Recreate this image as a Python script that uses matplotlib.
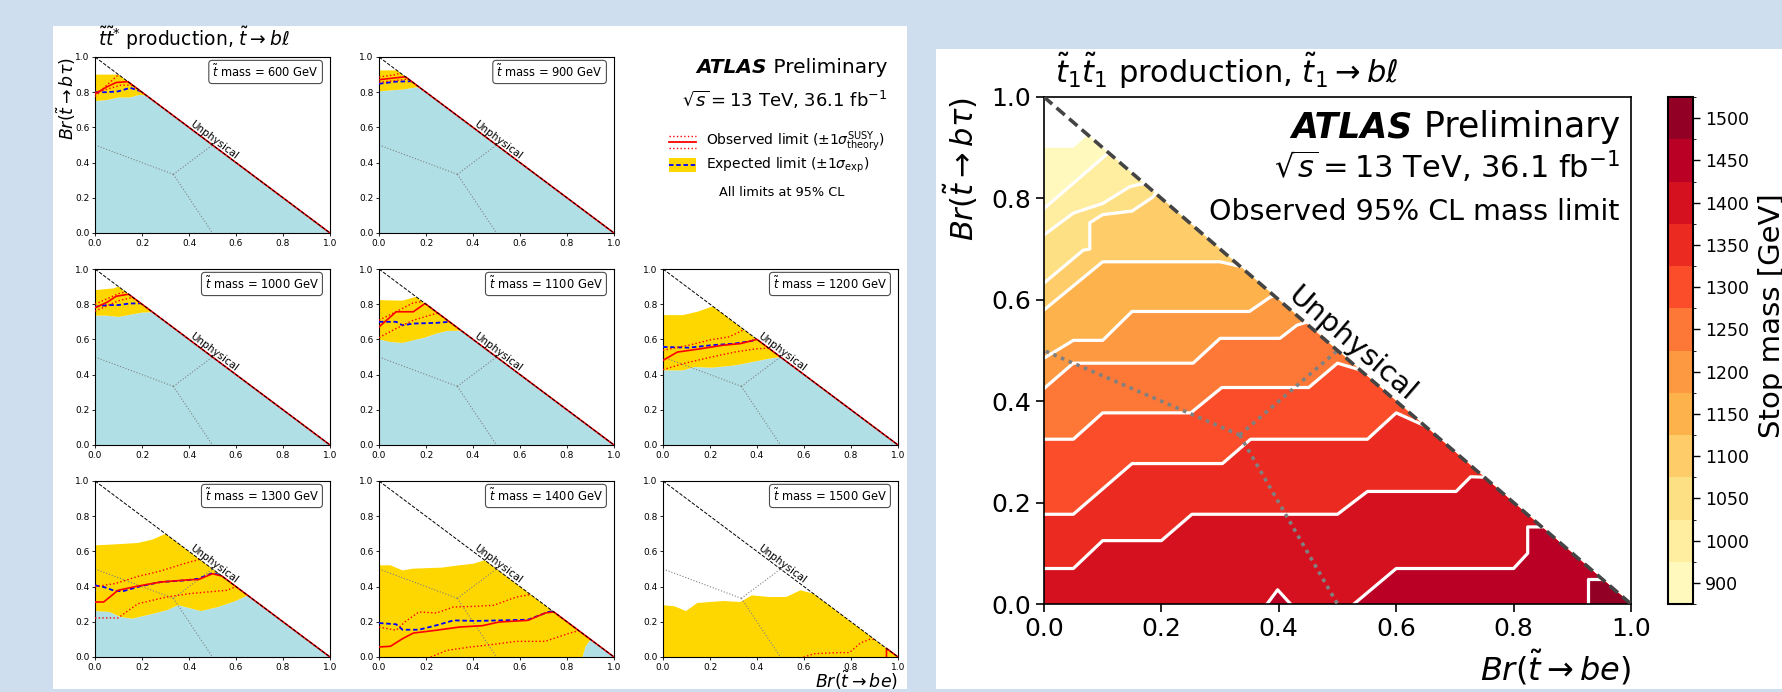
import numpy as np
import matplotlib
matplotlib.use('Agg')
import matplotlib.pyplot as plt
from matplotlib.patches import Polygon, Rectangle
from matplotlib.colors import ListedColormap, BoundaryNorm
from matplotlib.cm import ScalarMappable

# ---------------- datos: panel derecho (limite observado) ----------------
mass_levels = [900, 1000, 1050, 1100, 1150, 1200, 1250, 1300, 1350, 1400, 1450, 1500]

# borde superior de la zona con limite (banda de 900 GeV)
top_x = [0.0, 0.05, 0.075]
top_y = [0.90, 0.90, 0.925]

# contornos: cada uno separa la banda de arriba de la banda de abajo (masa indicada)
c1000 = ([0.0, 0.11], [0.78, 0.89])
c1050 = ([0.0, 0.05, 0.10, 0.146, 0.164, 0.172], [0.728, 0.771, 0.79, 0.823, 0.828, 0.828])
c1100 = ([0.0, 0.067, 0.078, 0.078, 0.10, 0.15, 0.186, 0.19],
         [0.633, 0.698, 0.70, 0.752, 0.768, 0.775, 0.803, 0.81])
c1150 = ([0.0, 0.10, 0.30, 0.334], [0.58, 0.675, 0.675, 0.666])
c1200 = ([0.0, 0.05, 0.10, 0.15, 0.35, 0.385, 0.392], [0.485, 0.52, 0.52, 0.577, 0.577, 0.605, 0.608])
c1250 = ([0.0, 0.05, 0.254, 0.30, 0.402, 0.431, 0.445], [0.425, 0.475, 0.475, 0.524, 0.524, 0.55, 0.555])
c1300 = ([0.0, 0.05, 0.10, 0.25, 0.303, 0.451, 0.50, 0.538],
         [0.325, 0.325, 0.377, 0.377, 0.427, 0.427, 0.475, 0.462])
c1350 = ([0.0, 0.05, 0.15, 0.304, 0.352, 0.551, 0.60, 0.648],
         [0.177, 0.177, 0.277, 0.277, 0.325, 0.325, 0.377, 0.352])
c1400 = ([0.0, 0.05, 0.10, 0.20, 0.252, 0.50, 0.551, 0.702, 0.727, 0.75],
         [0.07, 0.07, 0.125, 0.125, 0.177, 0.177, 0.222, 0.222, 0.251, 0.25])
c1450 = ([0.528, 0.60, 0.80, 0.824, 0.824, 0.848], [0.0, 0.07, 0.07, 0.10, 0.152, 0.152])
c1500 = ([0.926, 0.926, 0.95], [0.0, 0.05, 0.05])
isla_1450 = ([0.38, 0.398, 0.42], [0.0, 0.028, 0.0])
contornos = [c1000, c1050, c1100, c1150, c1200, c1250, c1300, c1350, c1400, c1450, c1500]

# ---------------- datos: paneles izquierdos (por masa) ----------------
# up/lo: banda esperada +-1sigma, exp: esperado, obs: observado, obs_up/obs_dn: +-1sigma teoria
p600 = dict(up=([0, 0.05, 0.10], [0.90, 0.90, 0.90]),
            lo=([0, 0.05, 0.10, 0.15, 0.19, 0.22], [0.75, 0.755, 0.77, 0.77, 0.785, 0.78]),
            exp=([0, 0.05, 0.10, 0.15, 0.195], [0.80, 0.80, 0.805, 0.825, 0.805]),
            obs=([0, 0.05, 0.09, 0.14], [0.79, 0.83, 0.855, 0.86]),
            obs_up=([0, 0.05, 0.10], [0.775, 0.84, 0.90]),
            obs_dn=([0, 0.06, 0.11, 0.16], [0.80, 0.82, 0.84, 0.84]))
p900 = dict(up=([0, 0.076], [0.924, 0.924]),
            lo=([0, 0.10, 0.17], [0.805, 0.815, 0.83]),
            exp=([0, 0.073, 0.138], [0.848, 0.86, 0.862]),
            obs=([0, 0.10, 0.113], [0.871, 0.886, 0.887]),
            obs_up=([0, 0.073, 0.09], [0.886, 0.90, 0.91]),
            obs_dn=([0, 0.10, 0.125], [0.856, 0.871, 0.875]))
p1000 = dict(up=([0, 0.08, 0.10], [0.88, 0.89, 0.90]),
             lo=([0, 0.05, 0.10, 0.15, 0.20, 0.245], [0.735, 0.735, 0.728, 0.74, 0.752, 0.755]),
             exp=([0, 0.05, 0.10, 0.146, 0.195], [0.785, 0.795, 0.795, 0.804, 0.805]),
             obs=([0, 0.05, 0.09, 0.143], [0.78, 0.81, 0.845, 0.857]),
             obs_up=([0, 0.05, 0.10, 0.13], [0.80, 0.83, 0.86, 0.87]),
             obs_dn=([0, 0.05, 0.10, 0.15, 0.168], [0.76, 0.79, 0.82, 0.835, 0.832]))
p1100 = dict(up=([0, 0.10, 0.158], [0.823, 0.82, 0.842]),
             lo=([0, 0.05, 0.10, 0.146, 0.195, 0.244, 0.29, 0.35],
                 [0.60, 0.585, 0.58, 0.595, 0.61, 0.633, 0.648, 0.65]),
             exp=([0, 0.073, 0.10, 0.146, 0.244, 0.30], [0.70, 0.70, 0.68, 0.69, 0.694, 0.70]),
             obs=([0, 0.073, 0.146, 0.196], [0.671, 0.757, 0.757, 0.804]),
             obs_up=([0, 0.10, 0.146, 0.185], [0.709, 0.776, 0.808, 0.815]),
             obs_dn=([0, 0.073, 0.146, 0.25], [0.61, 0.662, 0.709, 0.75]))
p1200 = dict(up=([0, 0.085, 0.146, 0.207, 0.215], [0.738, 0.738, 0.757, 0.785, 0.785]),
             lo=([0, 0.085, 0.134, 0.207, 0.305, 0.378, 0.45, 0.50],
                 [0.424, 0.424, 0.443, 0.439, 0.452, 0.471, 0.49, 0.50]),
             exp=([0, 0.11, 0.207, 0.305, 0.378, 0.395], [0.557, 0.553, 0.567, 0.576, 0.591, 0.605]),
             obs=([0, 0.061, 0.146, 0.256, 0.329, 0.40], [0.481, 0.528, 0.544, 0.567, 0.576, 0.60]),
             obs_up=([0, 0.11, 0.207, 0.28, 0.345], [0.538, 0.567, 0.599, 0.614, 0.655]),
             obs_dn=([0, 0.085, 0.207, 0.305, 0.40, 0.45], [0.428, 0.462, 0.50, 0.528, 0.547, 0.55]))
p1300 = dict(up=([0, 0.085, 0.183, 0.244, 0.30], [0.634, 0.64, 0.648, 0.667, 0.70]),
             lo=([0, 0.061, 0.11, 0.158, 0.22, 0.305, 0.354, 0.451, 0.524, 0.598, 0.65],
                 [0.261, 0.256, 0.227, 0.218, 0.237, 0.265, 0.294, 0.261, 0.284, 0.318, 0.35]),
             exp=([0, 0.037, 0.085, 0.122, 0.195, 0.28, 0.39, 0.44, 0.50, 0.535],
                  [0.407, 0.398, 0.375, 0.375, 0.403, 0.426, 0.436, 0.445, 0.477, 0.465]),
             obs=([0, 0.037, 0.098, 0.183, 0.28, 0.402, 0.44, 0.50, 0.54],
                  [0.3125, 0.3125, 0.379, 0.403, 0.426, 0.439, 0.44, 0.473, 0.46]),
             obs_up=([0, 0.085, 0.183, 0.28, 0.378, 0.445], [0.40, 0.417, 0.458, 0.489, 0.53, 0.555]),
             obs_dn=([0, 0.098, 0.183, 0.305, 0.402, 0.476, 0.561, 0.60],
                     [0.222, 0.222, 0.303, 0.341, 0.36, 0.369, 0.379, 0.40]))
p1400 = dict(up=([0, 0.049, 0.10, 0.146, 0.268, 0.341, 0.402, 0.45],
                 [0.521, 0.521, 0.492, 0.502, 0.508, 0.521, 0.53, 0.55]),
             lo=([0, 0.866, 0.878, 0.90], [0, 0, 0.057, 0.10]),
             exp=([0, 0.073, 0.10, 0.17, 0.244, 0.317, 0.415, 0.512, 0.634, 0.72, 0.74],
                  [0.193, 0.186, 0.155, 0.155, 0.18, 0.208, 0.205, 0.208, 0.212, 0.256, 0.26]),
             obs=([0, 0.049, 0.10, 0.146, 0.244, 0.341, 0.44, 0.512, 0.634, 0.707, 0.744],
                  [0.057, 0.061, 0.104, 0.136, 0.152, 0.17, 0.178, 0.199, 0.208, 0.25, 0.256]),
             obs_up=([0, 0.073, 0.11, 0.17, 0.244, 0.317, 0.415, 0.488, 0.585, 0.645],
                     [0.17, 0.152, 0.199, 0.256, 0.25, 0.284, 0.288, 0.294, 0.341, 0.355]),
             obs_dn=([0.22, 0.29, 0.39, 0.488, 0.585, 0.707, 0.805, 0.85],
                     [0, 0.038, 0.057, 0.072, 0.089, 0.089, 0.133, 0.15]))
p1500 = dict(up=([0, 0.049, 0.098, 0.146, 0.256, 0.329, 0.378, 0.451, 0.524, 0.585, 0.64],
                 [0.294, 0.288, 0.261, 0.307, 0.318, 0.3125, 0.35, 0.341, 0.341, 0.379, 0.36]),
             lo=([0, 1.0], [0, 0]),
             exp=None,
             obs=([0.951, 0.951], [0, 0.049]),
             obs_up=([0.598, 0.646, 0.744, 0.793, 0.841, 0.878, 0.90], [0, 0.019, 0.025, 0.025, 0.08, 0.1, 0.1]),
             obs_dn=None)

paneles = [(0, 0, 600, p600), (0, 1, 900, p900),
           (1, 0, 1000, p1000), (1, 1, 1100, p1100), (1, 2, 1200, p1200),
           (2, 0, 1300, p1300), (2, 1, 1400, p1400), (2, 2, 1500, p1500)]

# lineas de Voronoi (triangulo de Br)
vor_c = (1 / 3, 1 / 3)
vor_ends = [(0, 0.5), (0.5, 0.5), (0.5, 0)]

W, H = 1782, 692
fig = plt.figure(figsize=(W / 100, H / 100), dpi=100)
fig.patch.set_facecolor('#cfdeee')


def caja(x0, y0, x1, y1):
    return [x0 / W, 1 - y1 / H, (x1 - x0) / W, (y1 - y0) / H]


def fill_below(ax, xs, ys, color, clip, z=1):
    px = [-0.5] + list(xs) + [1.5, 1.5, -0.5]
    py = [ys[0]] + list(ys) + [ys[-1], -0.5, -0.5]
    p, = ax.fill(px, py, color=color, lw=0, zorder=z)
    p.set_clip_path(clip)


def fill_band(ax, lo, up, color, clip, z=1):
    px = list(up[0]) + [1.5, 1.5] + list(lo[0])[::-1]
    py = list(up[1]) + [up[1][-1], lo[1][-1]] + list(lo[1])[::-1]
    p, = ax.fill(px, py, color=color, lw=0, zorder=z)
    p.set_clip_path(clip)


def atlas(ax, x, y, size):
    t = ax.text(x, y, ' Preliminary', transform=ax.transData, ha='right', va='baseline', fontsize=size)
    fig.canvas.draw()
    bb = t.get_window_extent()
    x0 = ax.transData.inverted().transform((bb.x0, bb.y0))[0]
    ax.text(x0, y, 'ATLAS', transform=ax.transData, ha='right', va='baseline',
            fontsize=size, weight='bold', style='italic')


# paneles blancos
for x0, y0, x1, y1 in [(53, 26, 907, 689), (936, 49, 1782, 689)]:
    fig.add_artist(Rectangle((x0 / W, 1 - y1 / H), (x1 - x0) / W, (y1 - y0) / H,
                             transform=fig.transFigure, fc='white', ec='none', zorder=-5))

# ---------------- paneles izquierdos ----------------
col_x = [95, 379, 663]
row_y = [57, 269, 481]
aw, ah = 235, 176
for r, c, m, d in paneles:
    ax = fig.add_axes(caja(col_x[c], row_y[r], col_x[c] + aw, row_y[r] + ah))
    ax.set_xlim(0, 1)
    ax.set_ylim(0, 1)
    tri = Polygon([(0, 0), (1, 0), (0, 1)], closed=True, transform=ax.transData)
    fill_below(ax, *d['lo'], '#b0e0e6', tri)
    fill_band(ax, d['lo'], d['up'], '#ffd700', tri)
    for ex, ey in vor_ends:
        ax.plot([vor_c[0], ex], [vor_c[1], ey], color='grey', ls=':', lw=0.8, zorder=2)
    if d['exp']:
        ax.plot(*d['exp'], color='blue', ls=(0, (2.5, 1.5)), lw=1.3, zorder=3)
    for k in ('obs_up', 'obs_dn'):
        if d[k]:
            ax.plot(*d[k], color='red', ls=':', lw=1.0, zorder=3)
    ox, oy = d['obs']
    ax.plot(list(ox) + [1.0], list(oy) + [0.0], color='red', lw=1.2, zorder=4)
    ax.plot([0, 1], [1, 0], color='black', ls='--', lw=0.7, zorder=5)
    ax.text(0.953, 0.915, r'$\tilde{t}$ mass = %d GeV' % m, transform=ax.transAxes,
            ha='right', va='center', fontsize=8.3,
            bbox=dict(boxstyle='round,pad=0.3', fc='white', ec='0.3', lw=0.8))
    ax.text(0.495, 0.505, 'Unphysical', rotation=-36.8, rotation_mode='anchor',
            ha='center', va='bottom', fontsize=7.5, zorder=5)
    ax.set_xticks(np.arange(0, 1.01, 0.2))
    ax.set_yticks(np.arange(0, 1.01, 0.2))
    ax.tick_params(labelsize=6.5, length=2.5, width=0.6, pad=1.5)
    for s in ax.spines.values():
        s.set_linewidth(0.8)

# ---------------- panel derecho ----------------
axr = fig.add_axes(caja(1044, 97, 1631, 604))
cax = fig.add_axes(caja(1668, 97, 1693, 604))
axr.set_xlim(0, 1)
axr.set_ylim(0, 1)
tri = Polygon([(0, 0), (1, 0), (0, 1)], closed=True, transform=axr.transData)
colores = plt.get_cmap('YlOrRd')((np.arange(12) + 0.5) / 12)

fill_below(axr, top_x, top_y, colores[0], tri)
for i, (cx, cy) in enumerate(contornos):
    fill_below(axr, cx, cy, colores[i + 1], tri)
axr.fill(*isla_1450, color=colores[10], lw=0, zorder=1)
for cx, cy in contornos + [isla_1450]:
    axr.plot(cx, cy, color='white', lw=2.3, zorder=2)

for ex, ey in vor_ends:
    axr.plot([vor_c[0], ex], [vor_c[1], ey], color='#808080', ls=(0, (1, 1.3)), lw=2.6, zorder=3)
axr.plot([0, 1], [1, 0], color='#444444', ls=(0, (3, 1.6)), lw=2.6, zorder=4)
axr.text(0.509, 0.491, 'Unphysical', rotation=-40.8, rotation_mode='anchor',
         ha='center', va='bottom', fontsize=21, zorder=5)

axr.set_xticks(np.arange(0, 1.01, 0.2))
axr.set_yticks(np.arange(0, 1.01, 0.2))
axr.tick_params(labelsize=18, length=6, width=1.2)
for s in axr.spines.values():
    s.set_linewidth(1.2)
axr.set_ylabel(r'$Br(\tilde{t}\rightarrow b\tau)$', loc='top', fontsize=22, labelpad=8)
axr.set_xlabel(r'$Br(\tilde{t}\rightarrow be)$', loc='right', fontsize=23, labelpad=5)

atlas(axr, 0.981, 0.921, 25)
axr.text(0.981, 0.840, r'$\sqrt{s}=13$ TeV, 36.1 fb$^{-1}$', transform=axr.transAxes,
         ha='right', va='baseline', fontsize=22)
axr.text(0.981, 0.757, 'Observed 95% CL mass limit', transform=axr.transAxes,
         ha='right', va='baseline', fontsize=20.5)

cmap = ListedColormap(colores)
norm = BoundaryNorm(np.arange(13), 12)
cb = fig.colorbar(ScalarMappable(norm=norm, cmap=cmap), cax=cax, ticks=np.arange(12) + 0.5)
cb.set_ticklabels([str(v) for v in mass_levels])
cb.outline.set_linewidth(1.5)
cax.tick_params(labelsize=12.5, length=5, width=1)

# ---------------- textos en pixeles ----------------
ov = fig.add_axes([0, 0, 1, 1], zorder=10)
ov.set_xlim(0, W)
ov.set_ylim(H, 0)
ov.axis('off')

ov.text(98, 46, r'$\tilde{t}\tilde{t}^{*}$ production, $\tilde{t}\rightarrow b\ell$', fontsize=13.5, va='baseline')
ov.text(66, 99, r'$Br(\tilde{t}\rightarrow b\tau)$', rotation=90, ha='center', va='center', fontsize=12.5)
ov.text(898, 680, r'$Br(\tilde{t}\rightarrow be)$', ha='right', va='center', fontsize=12.5)
atlas(ov, 887, 73, 14.5)
ov.text(887, 107, r'$\sqrt{s}=13$ TeV, 36.1 fb$^{-1}$', ha='right', va='baseline', fontsize=13)

# leyenda
ov.plot([669, 696], [136, 136], color='red', ls=':', lw=1.0)
ov.plot([669, 696], [148, 148], color='red', ls=':', lw=1.0)
ov.plot([669, 696], [142, 142], color='red', lw=1.3)
ov.add_patch(Rectangle((669, 158), 27, 14, fc='#ffd700', ec='none'))
ov.plot([669, 696], [165, 165], color='blue', ls=(0, (2.5, 1.5)), lw=1.3)
ov.text(706, 142, r'Observed limit ($\pm1\sigma^{\mathrm{SUSY}}_{\mathrm{theory}}$)', va='center', fontsize=10)
ov.text(706, 165, r'Expected limit ($\pm1\sigma_{\mathrm{exp}}$)', va='center', fontsize=10)
ov.text(782, 192, 'All limits at 95% CL', ha='center', va='center', fontsize=9.3)

ov.text(1055, 83, r'$\tilde{t}_1\tilde{t}_1$ production, $\tilde{t}_1\rightarrow b\ell$', fontsize=22, va='baseline')
ov.text(1758, 316, 'Stop mass [GeV]', rotation=90, ha='left', va='center', fontsize=21)

plt.savefig('out.png', dpi=100, facecolor=fig.get_facecolor())
